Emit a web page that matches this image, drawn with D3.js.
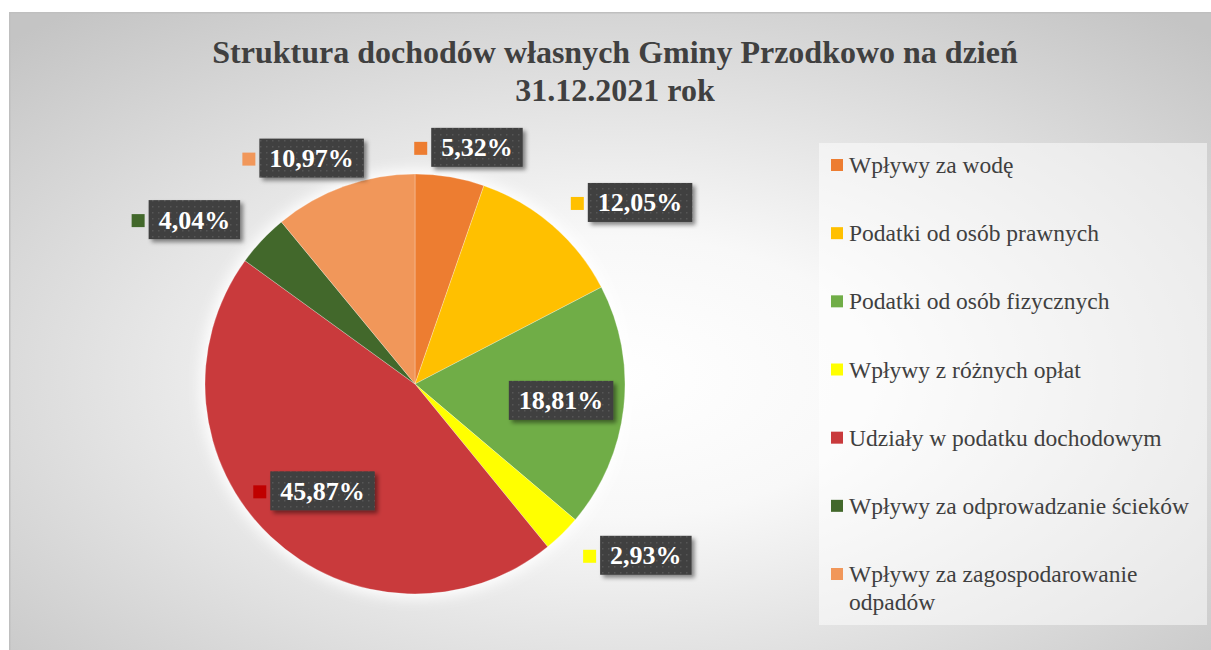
<!DOCTYPE html>
<html lang="pl">
<head>
  <meta charset="UTF-8">
  <title>Struktura dochodów własnych</title>
  <script src="https://d3js.org/d3.v7.min.js"></script>
  <style>
    body { margin: 0; background: #fff; }
    svg { display: block; font-family: "Liberation Serif", "Times New Roman", serif; }
  </style>
</head>
<body>
<script>
  // data
  const titleLines = ["Struktura dochodów własnych Gminy Przodkowo na dzień", "31.12.2021 rok"];
  const categories = [
    "Wpływy za wodę",
    "Podatki od osób prawnych",
    "Podatki od osób fizycznych",
    "Wpływy z różnych opłat",
    "Udziały w podatku dochodowym",
    "Wpływy za odprowadzanie ścieków",
    "Wpływy za zagospodarowanie odpadów"
  ];
  const shares = [5.32, 12.05, 18.81, 2.93, 45.87, 4.04, 10.97];
  const sliceColors = ["#ED7D31", "#FFC000", "#70AD47", "#FFFF00", "#C93A3C", "#42682B", "#F1975A"];
  const keyColors = ["#ED7D31", "#FFC000", "#70AD47", "#FFFF00", "#C00000", "#42682B", "#F1975A"];
  const keyShown = [true, true, false, true, true, true, true];

  const W = 1211, H = 650;
  const cx = 415, cy = 384, r = 210;

  const data = categories.map((c, i) => ({ name: c, value: shares[i], color: sliceColors[i], key: keyColors[i], showKey: keyShown[i] }));
  const fmt = v => d3.format(".2f")(v).replace(".", ",") + "%";

  const svg = d3.select("body").append("svg").attr("width", W).attr("height", H);
  const defs = svg.append("defs");

  const bg = defs.append("radialGradient").attr("id", "bg")
    .attr("cx", 0.5).attr("cy", 0.56).attr("r", 0.72);
  bg.append("stop").attr("offset", "0%").attr("stop-color", "#ffffff");
  bg.append("stop").attr("offset", "30%").attr("stop-color", "#f8f8f8");
  bg.append("stop").attr("offset", "100%").attr("stop-color", "#c4c4c4");

  const pat = defs.append("pattern").attr("id", "dots")
    .attr("width", 6).attr("height", 6).attr("patternUnits", "userSpaceOnUse");
  pat.append("rect").attr("width", 6).attr("height", 6).attr("fill", "#3f3f3f");
  pat.append("rect").attr("x", 2).attr("y", 2).attr("width", 1.5).attr("height", 1.5).attr("fill", "#575757");

  const shadow = defs.append("filter").attr("id", "shadow")
    .attr("x", "-20%").attr("y", "-30%").attr("width", "150%").attr("height", "180%");
  shadow.append("feDropShadow").attr("dx", 3).attr("dy", 3).attr("stdDeviation", 2)
    .attr("flood-color", "#000").attr("flood-opacity", 0.45);

  const glow = defs.append("filter").attr("id", "glow")
    .attr("x", "-20%").attr("y", "-20%").attr("width", "140%").attr("height", "140%");
  glow.append("feGaussianBlur").attr("stdDeviation", 7);

  // chart area
  svg.append("rect")
    .attr("x", 9.75).attr("y", 12.75).attr("width", W).attr("height", H)
    .attr("fill", "url(#bg)").attr("stroke", "#bfbfbf").attr("stroke-width", 1.5);

  // title
  svg.append("text")
    .attr("x", 615).attr("y", 63)
    .attr("text-anchor", "middle")
    .attr("font-size", 32).attr("font-weight", "bold").attr("fill", "#404040")
    .selectAll("tspan").data(titleLines).enter().append("tspan")
    .attr("x", 615).attr("dy", (d, i) => i == 0 ? 0 : 38)
    .text(d => d);

  // pie
  const pie = d3.pie().sort(null).value(d => d.value);
  const arcs = pie(data);
  const arc = d3.arc().innerRadius(0).outerRadius(r);

  const g = svg.append("g").attr("transform", `translate(${cx},${cy})`);
  g.append("circle").attr("r", r + 4).attr("fill", "#ffffff").attr("filter", "url(#glow)");
  g.selectAll("path.slice").data(arcs).enter().append("path")
    .attr("class", "slice")
    .attr("d", arc)
    .attr("fill", d => d.data.color)
    .attr("stroke", "rgba(255,255,255,0.35)")
    .attr("stroke-width", 0.75);

  // data labels
  const boxH = 39, pad = 10, keySize = 13, keyGap = 4;
  const labels = svg.append("g");
  arcs.forEach(d => {
    const mid = (d.startAngle + d.endAngle) / 2;
    const inside = d.data.value > 15;
    const lg = labels.append("g");
    const txt = lg.append("text")
      .attr("font-size", 26).attr("font-weight", "bold").attr("fill", "#ffffff")
      .attr("text-anchor", "middle")
      .text(fmt(d.data.value));
    const tw = txt.node().getComputedTextLength();
    const boxW = tw + pad * 2;
    const keyW = d.data.showKey ? keySize + keyGap : 0;
    const groupW = keyW + boxW;

    let gx, gy;
    if (inside) {
      const c = d3.arc().innerRadius(r * 0.7).outerRadius(r * 0.7).centroid(d);
      gx = cx + c[0]; gy = cy + c[1];
    } else {
      const rr = r + 30;
      const px = cx + rr * Math.sin(mid), py = cy - rr * Math.cos(mid);
      const k = Math.max(-1, Math.min(1, 1.5 * Math.sin(mid)));
      gx = px + k * groupW / 2; gy = py;
    }
    const left = gx - groupW / 2;
    if (d.data.showKey) {
      lg.append("rect")
        .attr("x", left).attr("y", gy - keySize / 2 + 1)
        .attr("width", keySize).attr("height", keySize)
        .attr("fill", d.data.key);
    }
    lg.insert("rect", "text")
      .attr("x", left + keyW).attr("y", gy - boxH / 2)
      .attr("width", boxW).attr("height", boxH)
      .attr("fill", "url(#dots)")
      .attr("filter", "url(#shadow)");
    txt.attr("x", left + keyW + boxW / 2).attr("y", gy + 9);
  });

  // legend
  const legX = 819, legY = 143, legW = 388, legH = 482;
  svg.append("rect")
    .attr("x", legX).attr("y", legY).attr("width", legW).attr("height", legH)
    .attr("fill", "#ffffff").attr("fill-opacity", 0.5);

  const ly = d3.scalePoint().domain(categories).range([173, 582]);
  const leg = svg.append("g").selectAll("g").data(data).enter().append("g");
  leg.append("rect")
    .attr("x", 831).attr("y", d => ly(d.name) - 14)
    .attr("width", 12).attr("height", 12)
    .attr("fill", d => d.color);
  leg.each(function (d) {
    const t = d3.select(this).append("text")
      .attr("x", 849).attr("y", ly(d.name))
      .attr("font-size", 23.5).attr("fill", "#404040");
    const words = d.name.split(" ");
    let line = [], ts = t.append("tspan").attr("x", 849), lineNo = 0;
    words.forEach(w => {
      line.push(w);
      ts.text(line.join(" "));
      if (ts.node().getComputedTextLength() > 350 && line.length > 1) {
        line.pop();
        ts.text(line.join(" "));
        line = [w];
        lineNo++;
        ts = t.append("tspan").attr("x", 849).attr("dy", 28).text(w);
      }
    });
  });
</script>
</body>
</html>
